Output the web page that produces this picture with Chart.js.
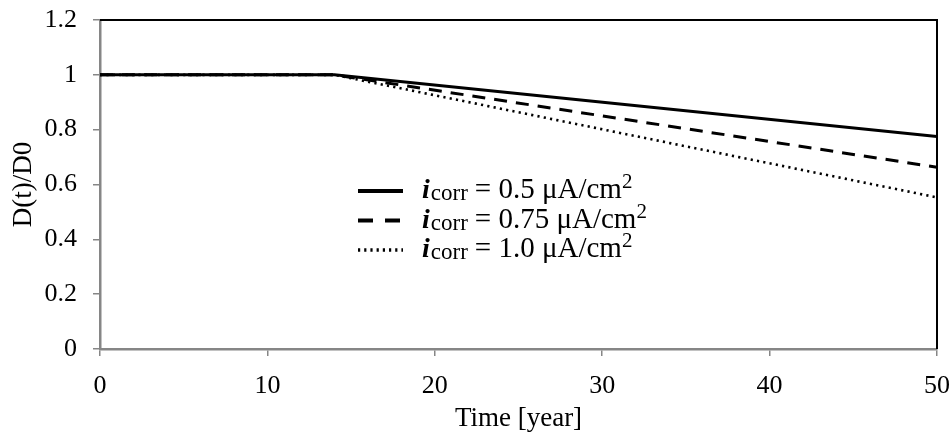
<html>
<head>
<title>D(t)/D0 vs time</title>
<script src="https://cdn.jsdelivr.net/npm/chart.js@4.4.0/dist/chart.umd.min.js"></script>
<style type="text/css">
  body { margin: 0; background: #fff; }
  #wrap { width: 952px; height: 435px; position: relative; }
</style>
</head>
<body>

<div id="wrap">
  <canvas id="chart"></canvas>
</div>

<script>
// data
var years = [0, 14, 50];
var ratio05 = [1, 1, 0.775];
var ratio075 = [1, 1, 0.663];
var ratio10 = [1, 1, 0.553];
var xTicks = [0, 10, 20, 30, 40, 50];
var yTicks = [0, 0.2, 0.4, 0.6, 0.8, 1, 1.2];
var legendValues = ['0.5', '0.75', '1.0'];

var serif = "'Liberation Serif', 'Times New Roman', serif";
Chart.defaults.font.family = serif;
Chart.defaults.font.size = 26;
Chart.defaults.color = '#000';

function pts(ys) {
  return years.map(function (x, i) { return { x: x, y: ys[i] }; });
}

var dashes = [[], [13, 9], [2.2, 4.2]];
var widths = [3, 3, 2.6];

// black frame on top and right of the plot area
var frame = {
  id: 'frame',
  beforeDatasetsDraw: function (chart) {
    var a = chart.chartArea, ctx = chart.ctx;
    ctx.save();
    ctx.strokeStyle = '#000';
    ctx.lineWidth = 2;
    ctx.beginPath();
    ctx.moveTo(a.left, a.top);
    ctx.lineTo(a.right, a.top);
    ctx.lineTo(a.right, a.bottom);
    ctx.stroke();
    ctx.restore();
  }
};

// legend with italic i and subscript corr
var legendBox = {
  id: 'legendBox',
  afterDraw: function (chart) {
    var a = chart.chartArea, ctx = chart.ctx;
    var x0 = a.left + 258, y0 = a.top + 171;
    ctx.save();
    for (var k = 0; k < 3; k++) {
      var y = y0 + k * 29.5;
      ctx.strokeStyle = '#000';
      ctx.lineWidth = widths[k] + 0.8;
      ctx.setLineDash(k == 0 ? [] : (k == 1 ? [15, 12] : [2.2, 4]));
      ctx.beginPath();
      ctx.moveTo(x0, y);
      ctx.lineTo(x0 + 45, y);
      ctx.stroke();
      ctx.setLineDash([]);

      ctx.fillStyle = '#000';
      ctx.textBaseline = 'alphabetic';
      var tx = x0 + 64, base = y + 7;
      ctx.font = 'italic bold 28px ' + serif;
      ctx.fillText('i', tx, base);
      tx += ctx.measureText('i').width + 1;
      ctx.font = '23px ' + serif;
      ctx.fillText('corr', tx, base + 2);
      tx += ctx.measureText('corr').width + 7;
      ctx.font = '29px ' + serif;
      var s = '= ' + legendValues[k] + ' \u03bcA/cm';
      ctx.fillText(s, tx, base);
      tx += ctx.measureText(s).width;
      ctx.font = '21px ' + serif;
      ctx.fillText('2', tx, base - 10);
    }
    ctx.restore();
  }
};

var ctx = document.getElementById('chart').getContext('2d');
var myChart = new Chart(ctx, {
  type: 'line',
  data: {
    datasets: [
      { label: 'icorr = 0.5', data: pts(ratio05), borderColor: '#000', borderWidth: widths[0], borderDash: dashes[0] },
      { label: 'icorr = 0.75', data: pts(ratio075), borderColor: '#000', borderWidth: widths[1], borderDash: dashes[1] },
      { label: 'icorr = 1.0', data: pts(ratio10), borderColor: '#000', borderWidth: widths[2], borderDash: dashes[2] }
    ]
  },
  options: {
    responsive: true,
    maintainAspectRatio: false,
    animation: false,
    elements: { point: { radius: 0 }, line: { tension: 0 } },
    layout: { padding: { left: 0, right: 15, top: 20, bottom: 0 } },
    plugins: { legend: { display: false }, tooltip: { enabled: false } },
    scales: {
      x: {
        type: 'linear',
        min: 0, max: 50,
        afterBuildTicks: function (s) { s.ticks = xTicks.map(function (v) { return { value: v }; }); },
        afterFit: function (s) { s.height = 86; s.paddingLeft = 0; s.paddingRight = 0; },
        border: { color: '#868686', width: 2.5 },
        grid: { drawOnChartArea: false, color: '#868686', lineWidth: 1.5, tickLength: 7 },
        ticks: { padding: 15, maxRotation: 0 },
        title: { display: true, text: 'Time [year]', font: { size: 27 }, padding: { top: 0, bottom: 0 } }
      },
      y: {
        min: 0, max: 1.2,
        afterBuildTicks: function (s) { s.ticks = yTicks.map(function (v) { return { value: v }; }); },
        afterFit: function (s) { s.width = 100; s.paddingTop = 0; s.paddingBottom = 0; },
        border: { color: '#868686', width: 2.5 },
        grid: { drawOnChartArea: false, color: '#868686', lineWidth: 1.5, tickLength: 7 },
        ticks: { padding: 16, callback: function (v) { return String(v); } },
        title: { display: true, text: 'D(t)/D0', font: { size: 27 }, padding: { top: 8, bottom: 0 } }
      }
    }
  },
  plugins: [frame, legendBox]
});
</script>

</body>
</html>
